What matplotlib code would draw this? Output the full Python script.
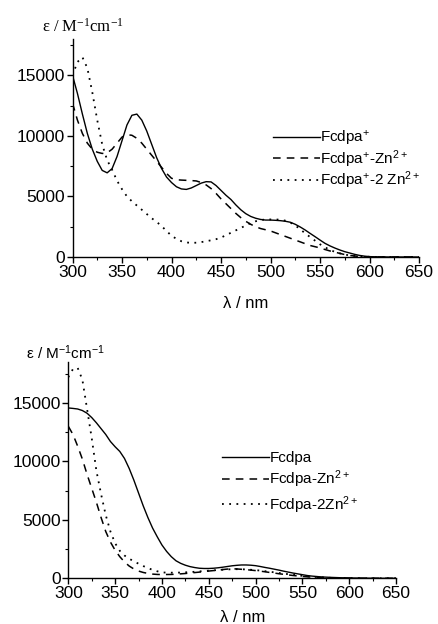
import numpy as np
import matplotlib
matplotlib.use("Agg")
import matplotlib.pyplot as plt
from matplotlib.ticker import MultipleLocator

# ---------------- data: top panel ----------------
wl_top = [300, 305, 310, 315, 320, 325, 330, 335, 340, 345, 350, 355, 360, 365, 370, 375,
          380, 385, 390, 395, 400, 405, 410, 415, 420, 425, 430, 435, 440, 445, 450, 455,
          460, 465, 470, 475, 480, 485, 490, 495, 500, 505, 510, 515, 520, 525, 530, 535,
          540, 545, 550, 555, 560, 565, 570, 575, 580, 585, 590, 595, 600, 610, 620, 630,
          640, 650]
fcdpa_ox = [15000, 13500, 11800, 10200, 8900, 7900, 7150, 6950, 7300, 8300, 9600, 10900,
            11700, 11800, 11300, 10400, 9300, 8200, 7300, 6600, 6150, 5800, 5620, 5580,
            5700, 5900, 6100, 6220, 6200, 5900, 5500, 5100, 4750, 4300, 3900, 3580, 3350,
            3200, 3100, 3050, 3050, 3030, 3000, 2950, 2870, 2700, 2480, 2230, 1950, 1680,
            1400, 1130, 920, 740, 580, 440, 330, 220, 130, 70, 30, 10, 0, 0, 0, 0]
fcdpa_ox_zn = [12700, 11300, 10200, 9400, 8900, 8650, 8550, 8600, 8900, 9400, 9900, 10100,
               10050, 9800, 9400, 8900, 8400, 7900, 7400, 6900, 6500, 6380, 6350, 6330,
               6310, 6280, 6150, 5950, 5650, 5250, 4800, 4400, 4000, 3600, 3250, 2950, 2700,
               2500, 2350, 2250, 2150, 2000, 1850, 1700, 1550, 1400, 1250, 1100, 950, 850,
               750, 620, 500, 400, 300, 200, 130, 80, 40, 20, 10, 0, 0, 0, 0, 0]
fcdpa_ox_2zn = [15000, 16100, 16500, 15600, 13600, 11300, 9300, 8000, 7200, 6300, 5600,
                5000, 4600, 4250, 3900, 3550, 3200, 2900, 2550, 2150, 1750, 1500, 1300, 1200,
                1170, 1180, 1230, 1300, 1380, 1470, 1600, 1800, 2000, 2200, 2400, 2600, 2800,
                2950, 3050, 3100, 3100, 3100, 3080, 3000, 2850, 2600, 2300, 1950, 1650, 1350,
                1050, 800, 600, 420, 300, 200, 130, 90, 50, 30, 20, 0, 0, 0, 0, 0]
labels_top = [r'Fcdpa$^{\mathregular{+}}$',
              r'Fcdpa$^{\mathregular{+}}$-Zn$^{\mathregular{2+}}$',
              r'Fcdpa$^{\mathregular{+}}$-2 Zn$^{\mathregular{2+}}$']

# ---------------- data: bottom panel ----------------
wl_bot = [300, 305, 310, 315, 320, 325, 330, 335, 340, 345, 350, 355, 360, 365, 370, 375,
          380, 385, 390, 395, 400, 405, 410, 415, 420, 425, 430, 435, 440, 445, 450, 455,
          460, 465, 470, 475, 480, 485, 490, 495, 500, 505, 510, 515, 520, 525, 530, 535,
          540, 545, 550, 555, 560, 570, 580, 590, 600, 610, 620, 630, 640, 650]
fcdpa = [14570, 14530, 14480, 14350, 14120, 13750, 13300, 12800, 12300, 11700, 11250, 10850,
         10250, 9400, 8400, 7300, 6200, 5200, 4300, 3550, 2850, 2300, 1850, 1500, 1280, 1120,
         1000, 920, 860, 840, 840, 860, 900, 950, 1010, 1070, 1110, 1140, 1140, 1120, 1080,
         1010, 930, 860, 780, 700, 610, 530, 450, 380, 310, 240, 190, 120, 80, 50, 30, 20,
         10, 0, 0, 0]
fcdpa_zn = [13000, 12300, 11300, 10200, 8900, 7700, 6500, 5200, 4000, 3100, 2400, 1850, 1400,
            1050, 800, 620, 500, 420, 360, 330, 320, 325, 330, 350, 380, 410, 450, 490, 530,
            580, 620, 660, 700, 750, 790, 810, 800, 770, 740, 700, 660, 610, 560, 500, 450,
            390, 340, 290, 240, 200, 160, 130, 100, 60, 30, 20, 10, 0, 0, 0, 0, 0]
fcdpa_2zn = [17200, 17900, 18000, 17000, 14500, 12000, 9200, 7200, 5400, 4000, 3000, 2350,
             1950, 1680, 1450, 1250, 1050, 880, 720, 600, 500, 490, 480, 485, 490, 510, 530,
             560, 590, 620, 650, 680, 710, 735, 760, 775, 780, 770, 760, 730, 700, 660, 610,
             560, 510, 455, 400, 350, 300, 255, 210, 175, 140, 80, 40, 20, 10, 0, 0, 0, 0, 0]
labels_bot = ['Fcdpa', r'Fcdpa-Zn$^{\mathregular{2+}}$', r'Fcdpa-2Zn$^{\mathregular{2+}}$']

W, H = 438, 624
plt.rcParams['font.family'] = ['Liberation Sans', 'DejaVu Sans']
plt.rcParams['mathtext.default'] = 'regular'

fig = plt.figure(figsize=(W / 100, H / 100), dpi=100)

styles = [dict(ls='-', lw=1.0),
          dict(ls=(0, (5, 4)), lw=1.1),
          dict(ls=(0, (1, 3)), lw=1.3)]


def style_axes(ax, ytop):
    ax.set_xlim(300, 650)
    ax.set_ylim(0, ytop)
    for s in ('top', 'right'):
        ax.spines[s].set_visible(False)
    for s in ('left', 'bottom'):
        ax.spines[s].set_linewidth(1.0)
    ax.xaxis.set_major_locator(MultipleLocator(50))
    ax.xaxis.set_minor_locator(MultipleLocator(25))
    ax.yaxis.set_major_locator(MultipleLocator(5000))
    ax.yaxis.set_minor_locator(MultipleLocator(2500))
    ax.tick_params(which='major', direction='out', length=4, width=1.0,
                   labelsize=12.5, pad=1.5)
    ax.tick_params(which='minor', direction='out', length=2.5, width=0.8)


def px_axes(l, r, b, t):
    return fig.add_axes([l / W, (H - b) / H, (r - l) / W, (b - t) / H])


# top panel
ax1 = px_axes(72.5, 419, 257, 39)
for y, st in zip([fcdpa_ox, fcdpa_ox_zn, fcdpa_ox_2zn], styles):
    ax1.plot(wl_top, y, color='black', **st)
style_axes(ax1, 18000)
leg1 = ax1.legend(labels_top, loc='upper left', bbox_to_anchor=((273 - 72.5) / 346.5, (257 - 129) / 218),
                  frameon=False, fontsize=11, handlelength=3.1, handletextpad=0.0,
                  borderpad=0, borderaxespad=0, labelspacing=0.0)
fig.text(83 / W, 1 - 27 / H, r'ε / M$^{\mathregular{-1}}$cm$^{\mathregular{-1}}$',
         family='Liberation Serif', fontsize=12, ha='center', va='center')
fig.text(246 / W, 1 - 303 / H, 'λ / nm', fontsize=12, ha='center', va='center')

# bottom panel
ax2 = px_axes(68.3, 396, 578.3, 362)
for y, st in zip([fcdpa, fcdpa_zn, fcdpa_2zn], styles):
    ax2.plot(wl_bot, y, color='black', **st)
style_axes(ax2, 18500)
leg2 = ax2.legend(labels_bot, loc='upper left', bbox_to_anchor=((222 - 68.3) / 327.7, (578.3 - 451) / 216.3),
                  frameon=False, fontsize=11, handlelength=3.1, handletextpad=0.0,
                  borderpad=0, borderaxespad=0, labelspacing=0.25)
fig.text(66 / W, 1 - 353 / H, r'ε / M$^{\mathregular{-1}}$cm$^{\mathregular{-1}}$',
         fontsize=11, ha='center', va='center')
fig.text(243 / W, 1 - 617 / H, 'λ / nm', fontsize=12, ha='center', va='center')

fig.savefig('out.png', dpi=100)
